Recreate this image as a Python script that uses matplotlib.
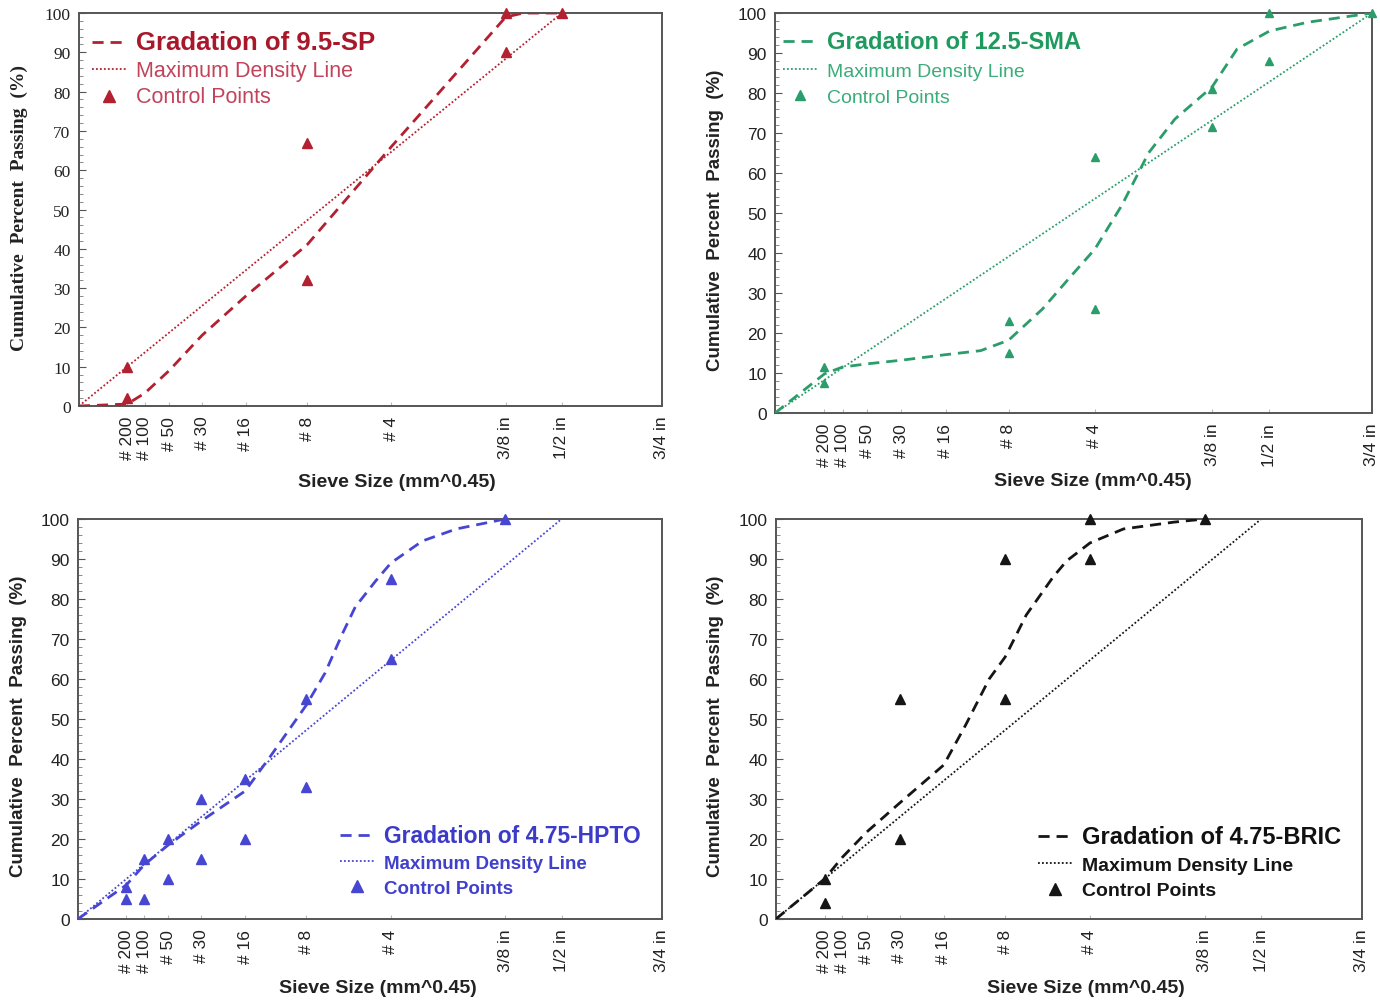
import numpy as np
import matplotlib
matplotlib.use("Agg")
import matplotlib.pyplot as plt
from matplotlib.lines import Line2D
from matplotlib.ticker import MultipleLocator

# ---------------- data ----------------
EXP = 0.45
sieve_labels = ["# 200", "# 100", "# 50", "# 30", "# 16", "# 8", "# 4", "3/8 in", "1/2 in", "3/4 in"]
sieve_mm = [0.075, 0.15, 0.3, 0.6, 1.18, 2.36, 4.75, 9.5, 12.5, 19.0]

# 9.5-SP
sp_curve_mm = [0, 0.075, 0.15, 0.3, 0.6, 1.18, 2.36, 4.75, 9.5, 10.4, 12.5]
sp_curve_pct = [0, 0.5, 3.3, 9, 18, 28, 41, 66, 99, 100, 100]
sp_mdl_mm = [0, 12.5]
sp_mdl_pct = [0, 100]
sp_ctrl_mm = [0.075, 0.075, 2.36, 2.36, 9.5, 9.5, 12.5]
sp_ctrl_pct = [2, 10, 32, 67, 90, 100, 100]

# 12.5-SMA
sma_curve_mm = [0, 0.075, 0.15, 0.3, 0.6, 1.18, 1.78, 2.36, 3.19, 3.93, 4.75, 5.69, 6.70, 7.8, 9.5, 10.75, 12.5, 14.75, 19.0]
sma_curve_pct = [0, 9.8, 11.5, 12.3, 13.2, 14.6, 15.6, 18.2, 26, 33.6, 41, 52, 65, 73.5, 81.5, 91, 95.5, 97.7, 100]
sma_mdl_mm = [0, 19.0]
sma_mdl_pct = [0, 100]
sma_ctrl_mm = [0.075, 0.075, 2.36, 2.36, 4.75, 4.75, 9.5, 9.5, 12.5, 12.5, 19.0]
sma_ctrl_pct = [7.5, 11.5, 15, 23, 26, 64, 71.5, 81, 88, 100, 100]

# 4.75-HPTO
hpto_curve_mm = [0, 0.075, 0.15, 0.3, 0.6, 1.18, 1.63, 2.36, 2.81, 3.25, 3.63, 4.25, 4.75, 5.88, 7.24, 9.5]
hpto_curve_pct = [0, 8.5, 13.5, 18.5, 24.5, 32, 41, 53.5, 61.5, 71, 78, 84.5, 89, 94.5, 97.5, 100]
hpto_mdl_mm = [0, 12.5]
hpto_mdl_pct = [0, 100]
hpto_ctrl_mm = [0.075, 0.075, 0.15, 0.15, 0.3, 0.3, 0.6, 0.6, 1.18, 1.18, 2.36, 2.36, 4.75, 4.75, 9.5]
hpto_ctrl_pct = [5, 8, 5, 15, 10, 20, 15, 30, 20, 35, 33, 55, 65, 85, 100]

# 4.75-BRIC
bric_curve_mm = [0, 0.075, 0.15, 0.3, 0.6, 1.18, 1.55, 2.01, 2.36, 2.87, 3.6, 4.0, 4.75, 5.95, 8.03, 9.5]
bric_curve_pct = [0, 10, 15.4, 21.7, 29, 38.5, 48.5, 60, 65.5, 76, 85.5, 89.5, 94, 97.5, 99.2, 100]
bric_mdl_mm = [0, 12.5]
bric_mdl_pct = [0, 100]
bric_ctrl_mm = [0.075, 0.075, 0.6, 0.6, 2.36, 2.36, 4.75, 4.75, 9.5]
bric_ctrl_pct = [4, 10, 20, 55, 55, 90, 90, 100, 100]

# ---------------- figure ----------------
SANS = "Liberation Sans"
SERIF = "Liberation Serif"
fig = plt.figure(figsize=(13.8, 10.03), dpi=100)

panels = [
    dict(pos=[0.0572, 0.5942, 0.4225, 0.3918], curve=(sp_curve_mm, sp_curve_pct),
         mdl=(sp_mdl_mm, sp_mdl_pct), ctrl=(sp_ctrl_mm, sp_ctrl_pct),
         name="Gradation of 9.5-SP", line="#b3202f", title_c="#a8182a", text_c="#c2435a",
         ms=7, serif=True, leg_anchor=(0.022, 0.957), leg_bold=False,
         title_fs=18.5, text_fs=15.5, spacing=0.3,
         xlab=(0.545, -0.170), ylab=(-0.0875, 0.506)),
    dict(pos=[0.5616, 0.5872, 0.4326, 0.3988], curve=(sma_curve_mm, sma_curve_pct),
         mdl=(sma_mdl_mm, sma_mdl_pct), ctrl=(sma_ctrl_mm, sma_ctrl_pct),
         name="Gradation of 12.5-SMA", line="#2a9d6a", title_c="#1f9a5f", text_c="#3aad7a",
         ms=5.5, serif=False, leg_anchor=(0.013, 0.9575), leg_bold=False,
         title_fs=17, text_fs=14, spacing=0.5,
         xlab=(0.533, -0.1475), ylab=(-0.085, 0.485)),
    dict(pos=[0.0565, 0.0828, 0.4232, 0.3988], curve=(hpto_curve_mm, hpto_curve_pct),
         mdl=(hpto_mdl_mm, hpto_mdl_pct), ctrl=(hpto_ctrl_mm, hpto_ctrl_pct),
         name="Gradation of 4.75-HPTO", line="#4646d2", title_c="#3b3bc8", text_c="#4040cc",
         ms=7.5, serif=False, leg_anchor=(0.449, 0.2375), leg_bold=True,
         title_fs=16.5, text_fs=13.5, spacing=0.41,
         xlab=(0.514, -0.15), ylab=(-0.087, 0.485)),
    dict(pos=[0.5623, 0.0828, 0.4246, 0.3988], curve=(bric_curve_mm, bric_curve_pct),
         mdl=(bric_mdl_mm, bric_mdl_pct), ctrl=(bric_ctrl_mm, bric_ctrl_pct),
         name="Gradation of 4.75-BRIC", line="#151515", title_c="#111111", text_c="#151515",
         ms=7.5, serif=False, leg_anchor=(0.447, 0.235), leg_bold=True,
         title_fs=17, text_fs=14, spacing=0.45,
         xlab=(0.529, -0.15), ylab=(-0.089, 0.485)),
]

for p in panels:
    ax = fig.add_axes(p["pos"])
    cx = np.array(p["curve"][0]) ** EXP
    mx = np.array(p["mdl"][0]) ** EXP
    kx = np.array(p["ctrl"][0]) ** EXP
    ax.plot(mx, p["mdl"][1], color=p["line"], lw=1.3, ls=(0, (1, 1.2)), zorder=2)
    ax.plot(cx, p["curve"][1], color=p["line"], lw=2.0, ls=(0, (4, 2.5)), zorder=3)
    ax.plot(kx, p["ctrl"][1], ls="none", marker="^", ms=p["ms"], color=p["line"], zorder=4,
            clip_on=False)

    ax.set_xlim(0, 19.0 ** EXP)
    ax.set_ylim(0, 100)
    ax.set_xticks(np.array(sieve_mm) ** EXP)
    ax.set_xticklabels(sieve_labels, rotation=90, fontsize=12.5, family=SANS, color="#222222")
    ax.set_yticks(np.arange(0, 101, 10))
    yfam = SERIF if p["serif"] else SANS
    ax.set_yticklabels([str(v) for v in range(0, 101, 10)], fontsize=12.5, family=yfam,
                       color="#222222")
    ax.yaxis.set_minor_locator(MultipleLocator(2))
    ax.tick_params(axis="y", which="major", direction="in", length=5, width=0.8,
                   color="#555555", pad=6)
    ax.tick_params(axis="y", which="minor", direction="in", length=3, width=0.6,
                   color="#777777")
    ax.tick_params(axis="x", which="major", direction="in", length=3, width=0.8,
                   color="#bbbbbb", pad=7)
    for s in ax.spines.values():
        s.set_color("#555555")
        s.set_linewidth(1.4)

    if p["serif"]:
        ax.set_ylabel("Cumulative  Percent  Passing  (%)", family=SERIF, fontweight="bold",
                      fontsize=14, color="#222222")
    else:
        ax.set_ylabel("Cumulative  Percent  Passing  (%)", family=SANS, fontweight="bold",
                      fontsize=13.5, color="#222222")
    ax.yaxis.set_label_coords(*p["ylab"])
    ax.set_xlabel("Sieve Size (mm^0.45)", family=SANS, fontweight="bold", fontsize=14,
                  color="#222222")
    ax.xaxis.set_label_coords(*p["xlab"])

    handles = [
        Line2D([], [], color=p["line"], lw=2.0, ls=(0, (4, 2.5))),
        Line2D([], [], color=p["line"], lw=1.3, ls=(0, (1, 1.2))),
        Line2D([], [], color=p["line"], ls="none", marker="^", ms=p["ms"] + 1),
    ]
    labels = [p["name"], "Maximum Density Line", "Control Points"]
    leg = ax.legend(handles, labels, loc="upper left", bbox_to_anchor=p["leg_anchor"],
                    frameon=False, borderaxespad=0, borderpad=0, handlelength=1.8,
                    handletextpad=0.55, labelspacing=p["spacing"],
                    prop={"family": SANS, "size": 13.5})
    texts = leg.get_texts()
    texts[0].set_fontsize(p["title_fs"])
    texts[0].set_fontweight("bold")
    texts[0].set_color(p["title_c"])
    for t in texts[1:]:
        t.set_color(p["text_c"])
        t.set_fontsize(p["text_fs"])
        if p["leg_bold"]:
            t.set_fontweight("bold")

fig.savefig("out.png", dpi=100)
